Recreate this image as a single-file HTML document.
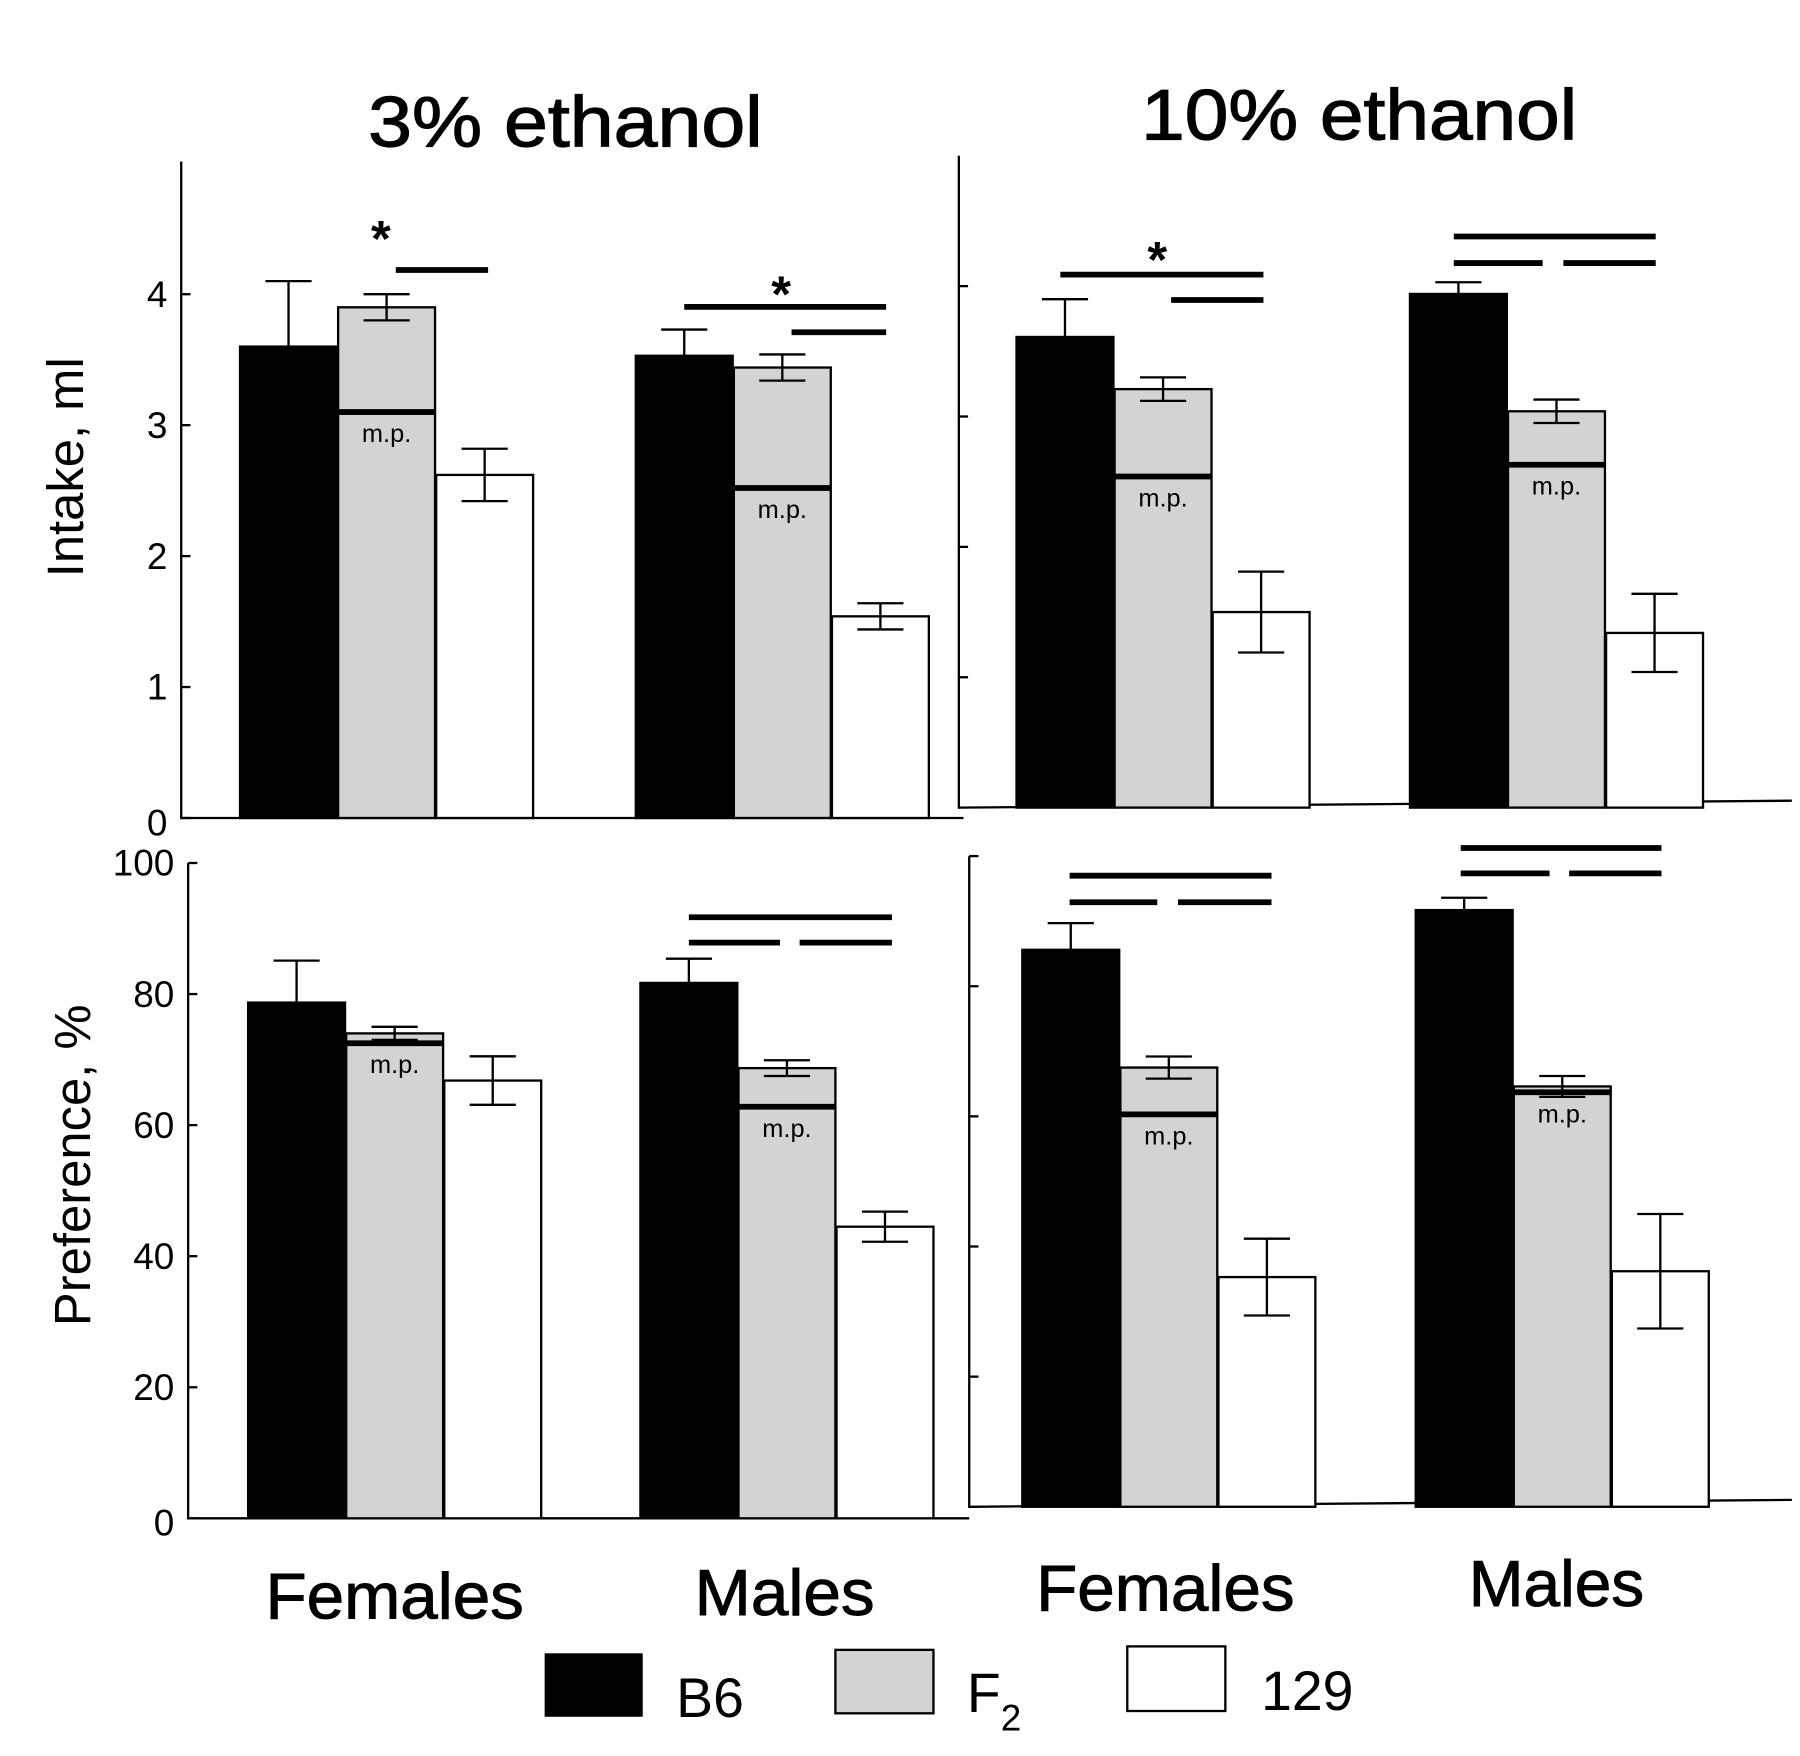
<!DOCTYPE html>
<html><head><meta charset="utf-8"><style>
html,body{margin:0;padding:0;background:#fff;}
svg{display:block;}
text{font-family:"Liberation Sans",sans-serif;fill:#000;}
</style></head><body>
<svg id="chart" width="1800" height="1756" viewBox="0 0 1560 1522" xmlns="http://www.w3.org/2000/svg">
<rect x="0" y="0" width="1560" height="1522" fill="#fff"/>
<g id="static">
<text x="490" y="127" font-size="62" text-anchor="middle" textLength="342" lengthAdjust="spacingAndGlyphs" stroke="#000" stroke-width="1">3% ethanol</text>
<text x="1178" y="121" font-size="62" text-anchor="middle" textLength="378" lengthAdjust="spacingAndGlyphs" stroke="#000" stroke-width="1">10% ethanol</text>
<text transform="translate(72,405) rotate(-90)" font-size="44" text-anchor="middle">Intake, ml</text>
<text transform="translate(78,1010) rotate(-90)" font-size="44" text-anchor="middle">Preference,  %</text>
<text x="342" y="1403" font-size="56" text-anchor="middle" textLength="224" lengthAdjust="spacingAndGlyphs" stroke="#000" stroke-width="0.8">Females</text>
<text x="680" y="1400" font-size="56" text-anchor="middle" textLength="156" lengthAdjust="spacingAndGlyphs" stroke="#000" stroke-width="0.8">Males</text>
<text x="1010" y="1396" font-size="56" text-anchor="middle" textLength="224" lengthAdjust="spacingAndGlyphs" stroke="#000" stroke-width="0.8">Females</text>
<text x="1349" y="1392" font-size="56" text-anchor="middle" textLength="152" lengthAdjust="spacingAndGlyphs" stroke="#000" stroke-width="0.8">Males</text>
<g>
<rect x="472" y="1433" width="85" height="55" fill="#000"/>
<text x="586" y="1488" font-size="48">B6</text>
<rect x="724" y="1430" width="85" height="55" fill="#d3d3d3" stroke="#000" stroke-width="2"/>
<text x="838" y="1484" font-size="48">F<tspan font-size="32" dy="16">2</tspan></text>
<rect x="977" y="1427" width="85" height="56" fill="#fff" stroke="#000" stroke-width="2"/>
<text x="1093" y="1482" font-size="48">129</text>
</g>
</g>
<g id="plot"></g>
</svg>
<script>
// groups: [Females 3%, Males 3%, Females 10%, Males 10%]
const groups = ["Females 3%", "Males 3%", "Females 10%", "Males 10%"];
const intakeB6 = [3.60, 3.53, 3.61, 3.94];
const intakeB6Err = [0.50, 0.20, 0.29, 0.09];
const intakeF2 = [3.90, 3.44, 3.21, 3.04];
const intakeF2Err = [0.10, 0.10, 0.09, 0.09];
const intakeMP = [3.10, 2.52, 2.54, 2.63];
const intake129 = [2.62, 1.54, 1.50, 1.34];
const intake129Err = [0.20, 0.10, 0.31, 0.30];
const prefB6 = [78.7, 81.7, 85.6, 91.7];
const prefB6Err = [6.4, 3.7, 4.1, 1.9];
const prefF2 = [74.0, 68.7, 67.5, 64.6];
const prefF2Err = [1.0, 1.2, 1.7, 1.6];
const prefMP = [72.5, 62.8, 60.3, 63.7];
const pref129 = [66.8, 44.5, 35.3, 36.2];
const pref129Err = [3.7, 2.3, 5.9, 8.8];
const intakeTicks = ["0", "1", "2", "3", "4"];
const prefTicks = ["0", "20", "40", "60", "80", "100"];

const NS = "http://www.w3.org/2000/svg";
const plot = document.getElementById("plot");
function mk(tag, attrs, parent) {
  const e = document.createElementNS(NS, tag);
  for (const k in attrs) e.setAttribute(k, attrs[k]);
  (parent || plot).appendChild(e);
  return e;
}
const panels = [
  {row: "intake", side: "left", base: 709, top: 255, max: 4, axisX: 157, axisTop: 140, xEnd: 835, gx: [208, 551]},
  {row: "intake", side: "right", base: 700, top: 248, max: 4, axisX: 831, axisTop: 135, xEnd: 1553, gx: [881, 1222]},
  {row: "pref", side: "left", base: 1316, top: 748, max: 100, axisX: 163, axisTop: 748, xEnd: 840, gx: [215, 555]},
  {row: "pref", side: "right", base: 1306, top: 742, max: 100, axisX: 840, axisTop: 742, xEnd: 1553, gx: [886, 1227]}
];
const BW = 84;
function yScale(p, v) { return p.base - v * (p.base - p.top) / p.max; }

panels.forEach((p, pi) => {
  const ticks = p.row === "intake" ? intakeTicks : prefTicks;
  const ax = mk("line", {x1: p.axisX, y1: p.axisTop, x2: p.axisX, y2: p.base + 1, stroke: "#000", "stroke-width": 2});
  
  
  const bx = mk("line", {x1: p.axisX, y1: p.base, x2: p.xEnd, y2: p.base - (p.side === "right" ? 6 : 0), stroke: "#000", "stroke-width": 2});
  
  
  ticks.forEach((t, i) => {
    const v = Number(t);
    const y = yScale(p, v);
    if (p.side === "left") {
      const tl = mk("line", {x1: p.axisX, y1: y, x2: p.axisX + 8, y2: y, stroke: "#000", "stroke-width": 2});
      
      
      const tx = mk("text", {x: p.axisX - 12, y: y + (v === 0 ? 15 : 11), "font-size": 32, "text-anchor": "end"});
      tx.textContent = t;
      
      
    } else if (v > 0) {
      const tl = mk("line", {x1: p.axisX, y1: y, x2: p.axisX + 8, y2: y, stroke: "#000", "stroke-width": 2});
      
      
    }
  });
  const isI = p.row === "intake";
  const B6 = isI ? intakeB6 : prefB6, B6e = isI ? intakeB6Err : prefB6Err;
  const F2 = isI ? intakeF2 : prefF2, F2e = isI ? intakeF2Err : prefF2Err;
  const MP = isI ? intakeMP : prefMP;
  const W = isI ? intake129 : pref129, We = isI ? intake129Err : pref129Err;
  [0, 1].forEach(k => {
    const gi = (p.side === "left" ? 0 : 2) + k;
    const x0 = p.gx[k];
    const series = [
      {v: B6[gi], e: B6e[gi], fill: "#000", name: "b6", upOnly: true},
      {v: F2[gi], e: F2e[gi], fill: "#d3d3d3", name: "f2"},
      {v: W[gi], e: We[gi], fill: "#fff", name: "129"}
    ];
    series.forEach((s, si) => {
      const x = x0 + si * (BW + 1);
      const yt = yScale(p, s.v);
      const r = mk("rect", {x: x, y: yt, width: BW, height: p.base - yt, fill: s.fill, stroke: "#000", "stroke-width": 2});
      
      
      const cx = x + BW / 2;
      const yHi = yScale(p, s.v + s.e), yLo = yScale(p, s.v - s.e);
      const eb = mk("path", {d: s.upOnly ? `M${cx} ${yt}V${yHi}M${cx - 20} ${yHi}H${cx + 20}` :
        `M${cx} ${yLo}V${yHi}M${cx - 20} ${yHi}H${cx + 20}M${cx - 20} ${yLo}H${cx + 20}`, stroke: "#000", "stroke-width": 2, fill: "none"});
      
      
      if (si === 1) {
        const ym = yScale(p, MP[gi]);
        const ml = mk("line", {x1: x, y1: ym, x2: x + BW, y2: ym, stroke: "#000", "stroke-width": 5});
        
        
        const mt = mk("text", {x: cx, y: ym + 26, "font-size": 22, "text-anchor": "middle"});
        mt.textContent = "m.p.";
        
        
      }
    });
  });
});

const sigLines = [
  [343, 423, 234], [593, 768, 266], [686, 768, 288],
  [919, 1095, 238], [1015, 1095, 260],
  [1260, 1435, 205], [1260, 1337, 228], [1355, 1435, 228],
  [597, 773, 795], [597, 676, 817], [693, 773, 817],
  [927, 1102, 759], [927, 1003, 782], [1021, 1102, 782],
  [1266, 1440, 735], [1266, 1343, 757], [1360, 1440, 757]
];
sigLines.forEach(l => {
  const e = mk("line", {x1: l[0], y1: l[2], x2: l[1], y2: l[2], stroke: "#000", "stroke-width": 5});
  
  
});
[[330, 222], [677, 270], [1003, 240]].forEach(s => {
  const t = mk("text", {x: s[0], y: s[1], "font-size": 44, "text-anchor": "middle", "font-weight": "bold"});
  t.textContent = "*";
  
  
});
</script>
</body></html>
